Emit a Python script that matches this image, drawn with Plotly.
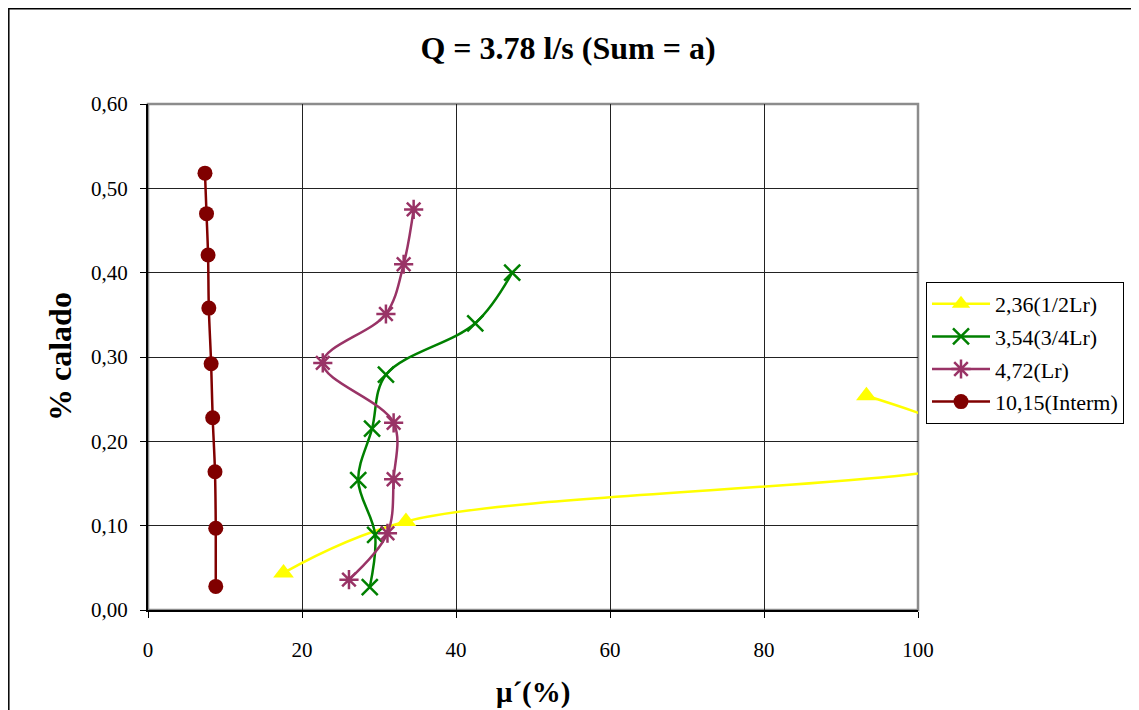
import plotly.graph_objects as go

# ---- data ----
s1_name = "2,36(1/2Lr)"
s1_x = [17.6, 33.5, 110.0, 93.3]
s1_y = [0.044, 0.105, 0.186, 0.254]

s2_name = "3,54(3/4Lr)"
s2_x = [28.8, 29.5, 27.3, 29.1, 30.9, 42.5, 47.3]
s2_y = [0.027, 0.089, 0.154, 0.215, 0.279, 0.340, 0.400]

s3_name = "4,72(Lr)"
s3_x = [26.1, 31.1, 31.9, 31.9, 22.7, 30.9, 33.2, 34.5]
s3_y = [0.036, 0.091, 0.155, 0.222, 0.293, 0.351, 0.410, 0.475]

s4_name = "10,15(Interm)"
s4_x = [8.8, 8.8, 8.7, 8.4, 8.2, 7.9, 7.8, 7.6, 7.4]
s4_y = [0.028, 0.097, 0.164, 0.228, 0.292, 0.358, 0.421, 0.470, 0.518]

title_text = "Q = 3.78 l/s (Sum = a)"
x_title = "μ´(%)"
y_title = "% calado"

FONT = "Liberation Serif, Times New Roman, serif"

fig = go.Figure()

fig.add_trace(go.Scatter(
    x=s1_x, y=s1_y, name=s1_name, mode="lines+markers",
    line=dict(color="#FFFF00", width=2.5, shape="spline", smoothing=1),
    marker=dict(symbol="triangle-up", size=18, color="#FFFF00"),
    legendgroup="a"))
fig.add_trace(go.Scatter(
    x=s2_x, y=s2_y, name=s2_name, mode="lines+markers",
    line=dict(color="#008000", width=2.5, shape="spline", smoothing=1),
    marker=dict(symbol="x-thin-open", size=16, color="#008000",
                line=dict(color="#008000", width=2.5)),
    legendgroup="b"))
fig.add_trace(go.Scatter(
    x=s3_x, y=s3_y, name=s3_name, mode="lines+markers",
    line=dict(color="#993366", width=2.5, shape="spline", smoothing=1),
    marker=dict(symbol="asterisk-open", size=16, color="#993366",
                line=dict(color="#993366", width=2.5)),
    legendgroup="c"))
fig.add_trace(go.Scatter(
    x=s4_x, y=s4_y, name=s4_name, mode="lines+markers",
    line=dict(color="#800000", width=2.5, shape="spline", smoothing=1),
    marker=dict(symbol="circle", size=15, color="#800000"),
    legendgroup="d"))

# page offset (body margin) and plot-area edges, in screenshot pixels
OFF = 8
L, R, T, B = 148, 918, 104, 610
W, H = 1139, 710


def px_x(p):
    return (p - L) / (R - L)


def px_y(p):
    return (B - p) / (B - T)


fig.update_layout(
    width=W, height=H,
    margin=dict(l=L - OFF, r=W - (R - OFF), t=T - OFF, b=H - (B - OFF), pad=0),
    paper_bgcolor="white", plot_bgcolor="white",
    separators=",.",
    font=dict(family=FONT, size=21, color="black"),
    title=dict(text="<b>" + title_text + "</b>", x=(568 - OFF) / W, xanchor="center",
               y=1 - (48 - OFF) / H, yanchor="middle", xref="container", yref="container",
               font=dict(family=FONT, size=32, color="black")),
    showlegend=True,
    legend=dict(x=px_x(926), y=px_y(282), xanchor="left", yanchor="top",
                bgcolor="white", bordercolor="black", borderwidth=1,
                font=dict(family=FONT, size=22, color="black"),
                traceorder="grouped", tracegroupgap=1, itemwidth=58),
    xaxis=dict(range=[0, 100], tick0=0, dtick=20, showgrid=True,
               gridcolor="#222", gridwidth=1, zeroline=False,
               showline=True, linecolor="black", linewidth=2,
               ticks="outside", ticklen=6, tickcolor="black", tickwidth=1,
               ticklabelstandoff=14,
               tickfont=dict(family=FONT, size=21, color="black")),
    yaxis=dict(range=[0, 0.6], tick0=0, dtick=0.1, tickformat=".2f",
               showgrid=True, gridcolor="#222", gridwidth=1, zeroline=False,
               showline=True, linecolor="black", linewidth=2,
               ticks="outside", ticklen=6, tickcolor="black", tickwidth=1,
               ticklabelstandoff=8,
               tickfont=dict(family=FONT, size=21, color="black")),
    annotations=[
        dict(text="<b>" + y_title + "</b>", xref="paper", yref="paper",
             x=px_x(60), y=0.5, xanchor="center", yanchor="middle",
             textangle=-90, showarrow=False,
             font=dict(family=FONT, size=32, color="black")),
        dict(text="<b>" + x_title + "</b>", xref="paper", yref="paper",
             x=0.5, y=px_y(692), xanchor="center", yanchor="middle",
             showarrow=False,
             font=dict(family=FONT, size=29, color="black")),
    ],
    shapes=[
        # plot-area border (grey)
        dict(type="rect", xref="x domain", yref="y domain", x0=0, x1=1, y0=0, y1=1,
             line=dict(color="#8c8c8c", width=2.5), layer="below"),
        # outer chart frame
        dict(type="rect", xref="paper", yref="paper",
             x0=px_x(8.8), x1=px_x(1160), y0=px_y(8.8), y1=px_y(730),
             line=dict(color="black", width=1.5), layer="below"),
    ],
)

fig.write_html("out.html")
